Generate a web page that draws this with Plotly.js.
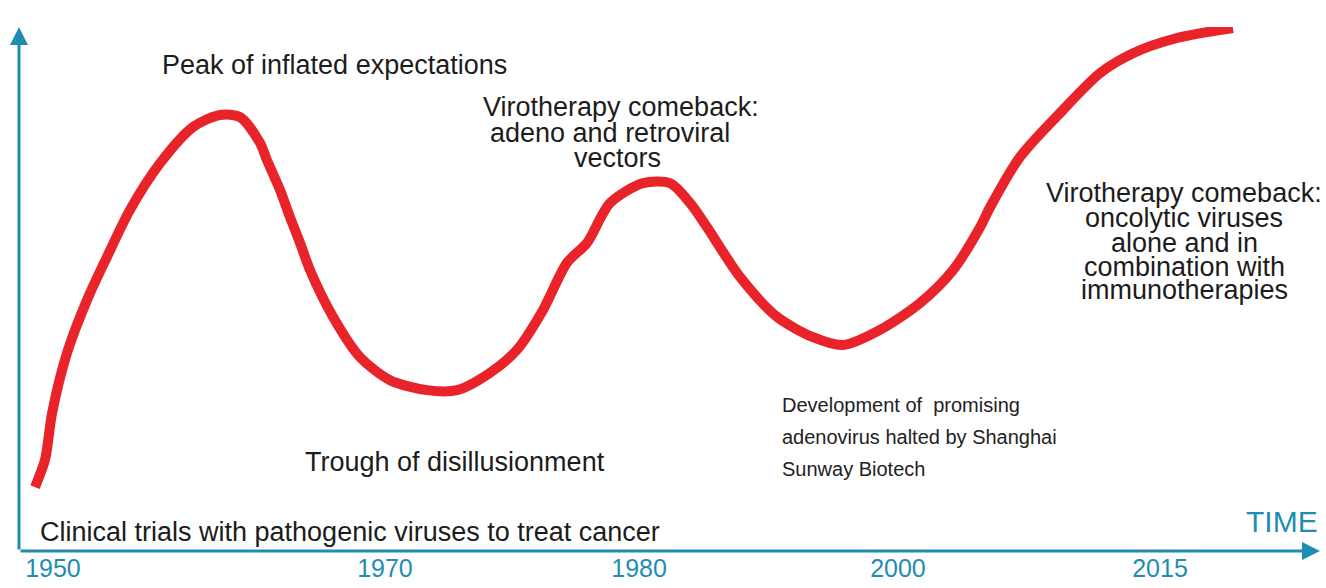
<!DOCTYPE html>
<html>
<head>
<meta charset="utf-8">
<script src="https://cdn.plot.ly/plotly-3.0.1.min.js"></script>
<style>html,body{margin:0;padding:0;background:#fff;}#chart{width:1326px;height:588px;}</style>
</head>
<body>
<div id="chart"></div>
<script>
// Curve: abstract time index (0-100) vs visibility (0-100)
var timeIndex = [1.23, 2.0, 2.54, 3.69, 5.23, 6.76, 8.53, 10.84, 13.37, 15.45, 16.99, 18.52, 19.06, 20.06, 20.83, 21.60, 22.37, 24.13, 26.21, 28.52, 31.36, 33.67, 36.20, 38.28, 40.28, 42.12, 43.66, 45.43, 47.96, 50.04, 51.58, 52.88, 55.42, 58.26, 61.03, 63.34, 66.18, 69.25, 71.79, 73.87, 74.64, 76.94, 80.02, 83.09, 85.63, 89.01, 93.31];
var visibility = [12.2, 17.4, 26.3, 37.8, 47.9, 56.1, 65.1, 74.0, 80.9, 83.2, 82.8, 77.9, 74.6, 68.9, 63.7, 58.8, 53.6, 44.7, 37.0, 32.6, 30.7, 30.7, 34.0, 38.4, 46.0, 55.0, 58.8, 66.4, 70.2, 70.2, 66.4, 61.8, 52.3, 44.7, 40.8, 39.3, 42.2, 47.3, 53.6, 61.8, 65.6, 75.2, 83.6, 91.2, 95.0, 97.9, 99.8];

// Year tick labels on the time axis
var tickPositions = [2.61, 28.13, 47.66, 67.56, 87.70];
var tickLabels = ['1950', '1970', '1980', '2000', '2015'];

// Text labels
var labelTexts = [
  'Peak of inflated expectations',
  'Virotherapy comeback:', 'adeno and retroviral', 'vectors',
  'Trough of disillusionment',
  'Clinical trials with pathogenic viruses to treat cancer',
  'Virotherapy comeback:', 'oncolytic viruses', 'alone and in', 'combination with', 'immunotherapies'
];
var labelX = [10.84, 46.27, 45.43, 46.04, 33.51, 1.46, 89.55, 89.55, 89.55, 89.55, 89.55];
var labelY = [92.7, 84.7, 79.8, 75.0, 17.0, 3.6, 68.3, 63.5, 58.8, 54.2, 49.8];
var labelAnchor = ['left', 'center', 'center', 'center', 'center', 'left', 'center', 'center', 'center', 'center', 'center'];

var noteTexts = ['Development of&nbsp; promising', 'adenovirus halted by Shanghai', 'Sunway Biotech'];
var noteX = [58.49, 58.49, 58.49];
var noteY = [27.9, 21.8, 15.6];

var teal = '#1f8db2';
var textColor = '#1c1c1c';
var font = '"Liberation Sans", Arial, sans-serif';

var annotations = [];
for (var i = 0; i < labelTexts.length; i++) {
  annotations.push({
    xref: 'x', yref: 'y', x: labelX[i], y: labelY[i], text: labelTexts[i],
    xanchor: labelAnchor[i], yanchor: 'middle', showarrow: false,
    font: {family: font, size: 27, color: textColor}
  });
}
for (var j = 0; j < noteTexts.length; j++) {
  annotations.push({
    xref: 'x', yref: 'y', x: noteX[j], y: noteY[j], text: noteTexts[j],
    xanchor: 'left', yanchor: 'middle', showarrow: false,
    font: {family: font, size: 20, color: '#222222'}
  });
}
// axis arrows
annotations.push({xref: 'paper', yref: 'paper', x: 1, y: 0, ax: -1301, ay: 0, axref: 'pixel', ayref: 'pixel',
  text: '', showarrow: true, arrowhead: 2, arrowsize: 1.2, arrowwidth: 3, arrowcolor: teal, standoff: 0, startstandoff: 0});
annotations.push({xref: 'paper', yref: 'paper', x: 0, y: 1, ax: 0, ay: 524, axref: 'pixel', ayref: 'pixel',
  text: '', showarrow: true, arrowhead: 2, arrowsize: 1.2, arrowwidth: 3, arrowcolor: teal, standoff: 0, startstandoff: 0});
// axis titles
annotations.push({xref: 'x', yref: 'y', x: 0.61, y: 100.4, text: 'VISIBILITY', xanchor: 'left', yanchor: 'middle',
  showarrow: false, font: {family: font, size: 30, color: teal}});
annotations.push({xref: 'x', yref: 'y', x: 100, y: 5.7, text: 'TIME', xanchor: 'right', yanchor: 'middle',
  showarrow: false, font: {family: font, size: 30, color: teal}});

var trace = {
  x: timeIndex, y: visibility, type: 'scatter', mode: 'lines',
  line: {color: '#e8242a', width: 10, shape: 'spline', smoothing: 0.8},
  hoverinfo: 'skip'
};

var layout = {
  width: 1326, height: 588,
  margin: {l: 19, r: 6, t: 27, b: 37, pad: 0},
  paper_bgcolor: '#ffffff', plot_bgcolor: '#ffffff',
  showlegend: false,
  xaxis: {range: [0, 100], showgrid: false, zeroline: false, showline: false,
    tickvals: tickPositions, ticktext: tickLabels, ticks: '', ticklen: 0,
    tickfont: {family: font, size: 25, color: teal}, fixedrange: true},
  yaxis: {range: [0, 100], showgrid: false, zeroline: false, showline: false, showticklabels: false, ticks: '', fixedrange: true},
  annotations: annotations
};

Plotly.newPlot('chart', [trace], layout, {displayModeBar: false, staticPlot: true});
</script>
</body>
</html>
